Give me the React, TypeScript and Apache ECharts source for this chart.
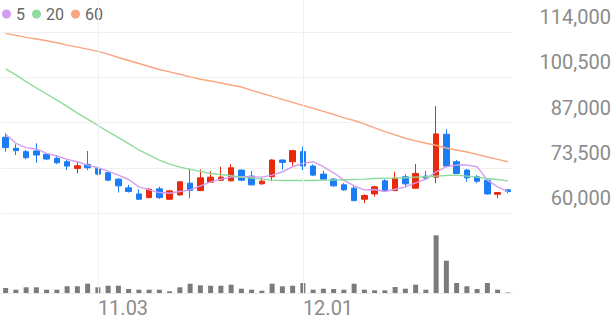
import React, { useEffect, useRef } from 'react';
import * as echarts from 'echarts';

const categories = [
  '10.21', '10.22', '10.23', '10.24', '10.27', '10.28', '10.29', '10.30', '10.31',
  '11.03', '11.04', '11.05', '11.06', '11.07', '11.10', '11.11', '11.12', '11.13', '11.14',
  '11.17', '11.18', '11.19', '11.20', '11.21', '11.24', '11.25', '11.26', '11.27', '11.28',
  '12.01', '12.02', '12.03', '12.04', '12.05', '12.08', '12.09', '12.10', '12.11', '12.12',
  '12.15', '12.16', '12.17', '12.18', '12.19', '12.22', '12.23', '12.24', '12.26', '12.29', '12.30',
];
const xTickLabels = ['11.03', '12.01'];
const yTickLabels = ['60,000', '73,500', '87,000', '100,500', '114,000'];

const opens = [82600, 79300, 78300, 78500, 77500, 76300, 75300, 73300, 74500, 73300, 72000, 70100, 67500, 65700, 64600, 67200, 64100, 65400, 68900, 66700, 69200, 69800, 69600, 72800, 71000, 68700, 70800, 75800, 75300, 78300, 74000, 71600, 70100, 68400, 67400, 64100, 65700, 69600, 66700, 70800, 67400, 71000, 70700, 83500, 75300, 72800, 70800, 69800, 65600, 66900];
const closes = [79500, 78600, 76500, 77300, 76100, 75000, 74000, 74100, 73500, 71600, 69800, 68100, 66400, 64100, 67100, 64600, 66600, 69300, 66700, 70500, 70700, 70700, 73500, 69800, 68400, 69500, 75800, 75100, 78600, 74000, 71300, 70100, 68100, 66900, 63700, 65200, 67800, 66700, 70400, 68700, 71800, 70400, 83600, 74000, 71800, 70500, 69500, 65700, 66100, 66400];
const highs = [83800, 80500, 78800, 80800, 77800, 77300, 75800, 75300, 78500, 73800, 72300, 70400, 68400, 67100, 67400, 67800, 66900, 69500, 73300, 73000, 72500, 73800, 74600, 73000, 72500, 70500, 76000, 76000, 78800, 79800, 74500, 72600, 70400, 68900, 68100, 65600, 68100, 70100, 72300, 71500, 74600, 72500, 91900, 85000, 75800, 73100, 71300, 70100, 66200, 67200];
const lows = [78300, 77300, 76000, 75000, 75800, 74600, 72800, 71800, 72800, 71300, 69500, 66100, 66100, 64100, 64400, 64200, 63900, 65200, 64400, 66500, 69000, 69600, 69400, 69500, 68200, 68400, 69500, 73000, 74100, 72800, 71000, 69800, 67800, 66600, 63500, 62900, 64900, 66400, 66500, 67700, 67200, 69800, 68900, 73800, 71600, 69300, 68900, 65500, 64400, 65900];

const ma5 = [83500, 80800, 79500, 79100, 77800, 77000, 76000, 75300, 74300, 73500, 72500, 71300, 70000, 67800, 66900, 66100, 65900, 66400, 66900, 68100, 69300, 70100, 70700, 70800, 70800, 70700, 71300, 72300, 73800, 74800, 75300, 73800, 72000, 69800, 68100, 66900, 67000, 66400, 67100, 67800, 69000, 70100, 72300, 73800, 74300, 74300, 73800, 69800, 67800, 66400];
const ma20 = [103000, 101200, 99200, 97300, 95500, 93700, 91800, 89800, 88000, 86100, 84300, 82500, 80700, 78800, 77300, 75800, 74600, 73700, 73000, 72400, 71800, 71500, 71100, 70700, 70400, 70100, 69800, 69700, 69700, 69700, 69700, 69800, 69800, 69900, 70000, 70100, 70300, 70400, 70400, 70500, 70700, 70800, 71000, 71200, 71300, 71000, 70700, 70300, 70000, 69600];
const ma60 = [113600, 113000, 112400, 111900, 111400, 110800, 110100, 109500, 108900, 108200, 107400, 106400, 105500, 104600, 103700, 102800, 102100, 101400, 100600, 99900, 99400, 98800, 98200, 97600, 96600, 95700, 94800, 93900, 93000, 92100, 91200, 90300, 89400, 88400, 87600, 86600, 85400, 84300, 83300, 82300, 81500, 80800, 80200, 79400, 78800, 78200, 77500, 76700, 76000, 75300];
const volumes = [50000, 33000, 57000, 57000, 33000, 33000, 67000, 67000, 93000, 57000, 73000, 73000, 40000, 33000, 33000, 33000, 17000, 57000, 93000, 77000, 73000, 73000, 83000, 43000, 33000, 23000, 93000, 67000, 73000, 100000, 33000, 43000, 40000, 33000, 93000, 33000, 27000, 27000, 60000, 43000, 83000, 33000, 577000, 323000, 100000, 67000, 40000, 100000, 33000, 5000];

const UP = '#e8290c';
const DOWN = '#1b7cf4';
const FONT = 'Roboto';

export default function App() {
  const ref = useRef<HTMLDivElement>(null);
  useEffect(() => {
    document.body.style.margin = '0';
    const chart = echarts.init(ref.current as HTMLDivElement, null, { renderer: 'svg' });
    const candleData = categories.map((_, i) => [opens[i], closes[i], lows[i], highs[i]]);
    const maLine = (name: string, data: number[], color: string) => ({
      name,
      type: 'line',
      xAxisIndex: 0,
      yAxisIndex: 0,
      data,
      symbol: 'none',
      showSymbol: false,
      itemStyle: { color },
      lineStyle: { color, width: 1.4 },
      z: 3,
    });
    chart.setOption({
      animation: false,
      legend: {
        data: ['5', '20', '60'],
        icon: 'circle',
        itemWidth: 9,
        itemHeight: 9,
        itemGap: 7,
        left: 2,
        top: 6,
        padding: 0,
        textStyle: { fontSize: 16, color: '#666', fontFamily: FONT },
      },
      grid: [
        { left: 0.5, right: 103, top: 32, height: 181 },
        { left: 0.5, right: 103, top: 225, height: 68 },
        { left: 0.5, right: 103, top: 0, height: 293 },
      ],
      xAxis: [
        {
          type: 'category', gridIndex: 0, data: categories,
          axisLine: { show: false }, axisTick: { show: false }, axisLabel: { show: false }, splitLine: { show: false },
        },
        {
          type: 'category', gridIndex: 1, data: categories,
          axisLine: { show: true, lineStyle: { color: '#ebebeb', width: 1 } },
          axisTick: { show: false },
          splitLine: { show: false },
          axisLabel: {
            interval: (_i: number, v: string) => xTickLabels.includes(v),
            align: 'left',
            fontSize: 20,
            color: '#8c8c8c',
            fontFamily: FONT,
            margin: 5,
          },
        },
        { type: 'category', gridIndex: 2, data: categories, show: false },
      ],
      yAxis: [
        { type: 'value', gridIndex: 0, min: 60000, max: 114000, show: false },
        {
          type: 'value', gridIndex: 0, position: 'right', min: 0, max: 4, interval: 1,
          axisLine: { show: false }, axisTick: { show: false },
          axisLabel: {
            formatter: (v: number) => yTickLabels[v],
            showMinLabel: true,
            showMaxLabel: true,
            align: 'right',
            verticalAlign: 'bottom',
            lineHeight: 30,
            margin: 98,
            fontSize: 20,
            color: '#8c8c8c',
            fontFamily: FONT,
          },
          splitLine: { show: true, lineStyle: { color: '#f0f0f0', width: 1 } },
        },
        { type: 'value', gridIndex: 1, min: 0, max: 680000, show: false },
        { type: 'value', gridIndex: 2, min: 0, max: 1, show: false },
      ],
      series: [
        {
          name: 'grid',
          type: 'line',
          xAxisIndex: 2,
          yAxisIndex: 3,
          data: [],
          z: 0,
          silent: true,
          markLine: {
            silent: true,
            symbol: 'none',
            label: { show: false },
            lineStyle: { color: '#f0f0f0', type: 'solid', width: 1 },
            data: xTickLabels.map((v) => ({ xAxis: v })),
          },
        },
        {
          name: 'candle',
          type: 'candlestick',
          xAxisIndex: 0,
          yAxisIndex: 0,
          data: candleData,
          barWidth: 6,
          z: 2,
          itemStyle: { color: UP, color0: DOWN, borderColor: UP, borderColor0: DOWN, borderWidth: 1 },
        },
        maLine('5', ma5, '#d39cf0'),
        maLine('20', ma20, '#8fdb9d'),
        maLine('60', ma60, '#f9a67f'),
        {
          name: 'volume',
          type: 'bar',
          xAxisIndex: 1,
          yAxisIndex: 2,
          data: volumes,
          barWidth: 5,
          itemStyle: { color: '#7b7b7b' },
        },
      ],
    });
    return () => chart.dispose();
  }, []);
  return <div ref={ref} style={{ width: 616, height: 321 }} />;
}
